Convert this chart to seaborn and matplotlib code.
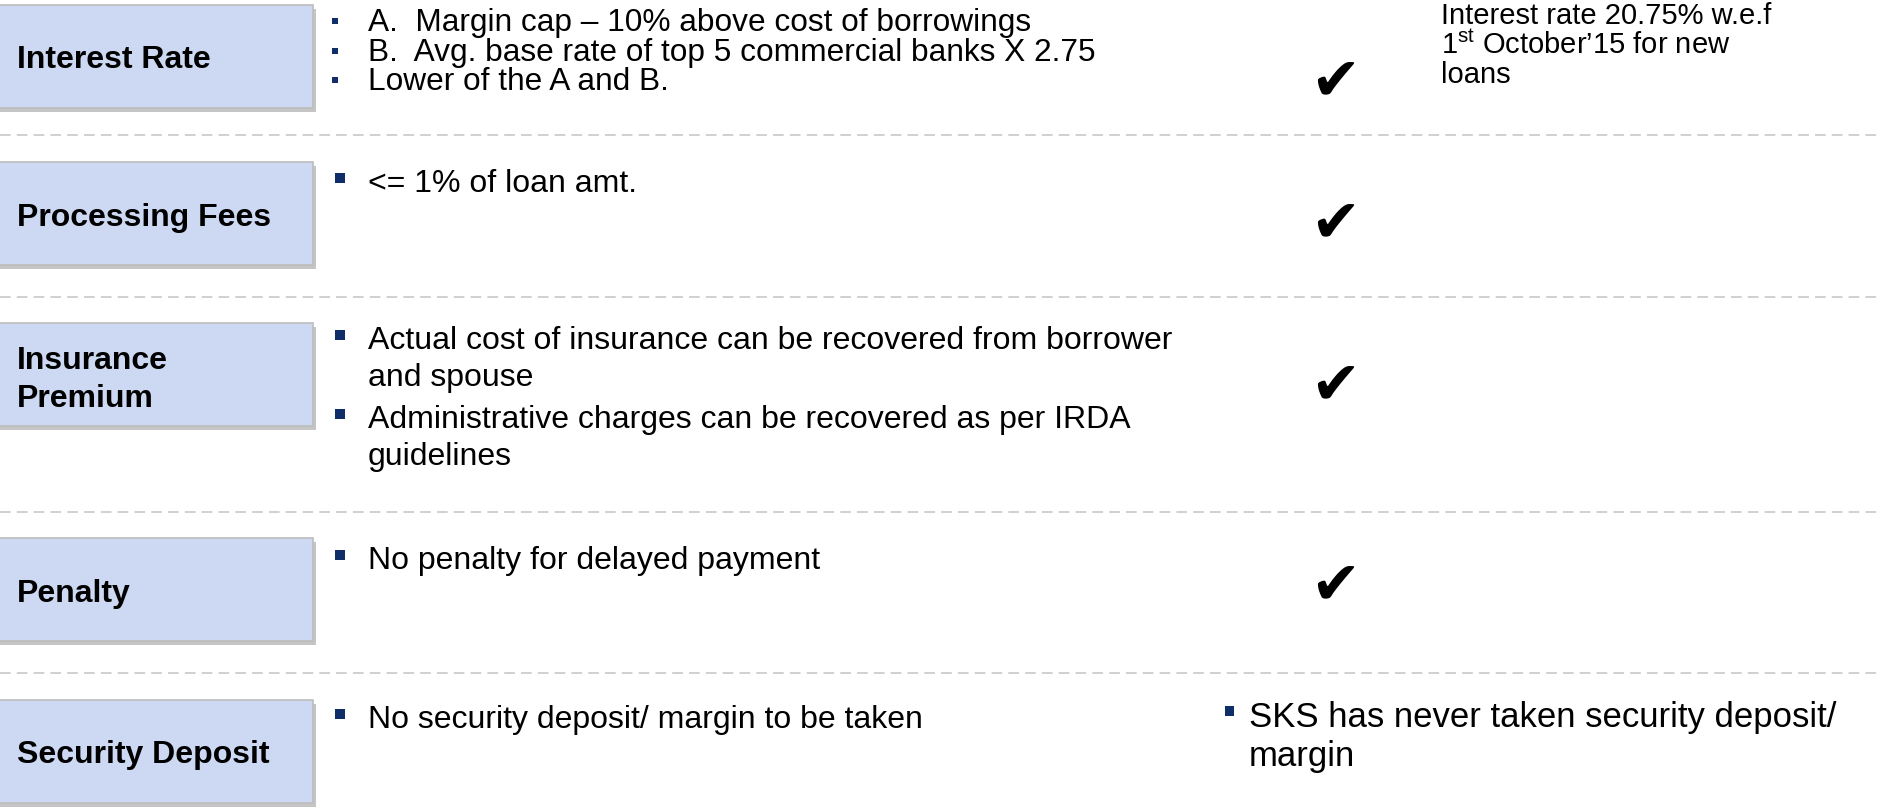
import matplotlib
matplotlib.use("Agg")
import matplotlib.pyplot as plt
import matplotlib.patheffects as pe
from matplotlib.patches import Rectangle
import seaborn as sns

# slide content
row_labels = [["Interest Rate"], ["Processing Fees"], ["Insurance", "Premium"],
              ["Penalty"], ["Security Deposit"]]
row_points = [
    [["A.  Margin cap \u2013 10% above cost of borrowings"],
     ["B.  Avg. base rate of top 5 commercial banks X 2.75"],
     ["Lower of the A and B."]],
    [["<= 1% of loan amt."]],
    [["Actual cost of insurance can be recovered from borrower", "and spouse"],
     ["Administrative charges can be recovered as per IRDA", "guidelines"]],
    [["No penalty for delayed payment"]],
    [["No security deposit/ margin to be taken"]],
]
row_tick = [True, True, True, True, False]
row_notes = [
    ["Interest rate 20.75% w.e.f", "1$^{\\mathrm{st}}$ October\u201915 for new", "loans"],
    [], [], [],
    ["SKS has never taken security deposit/", "margin"],
]
note_bullet = [False, False, False, False, True]

# layout (pixels, y downwards)
W, H = 1883, 807
box_top = [5, 162, 323, 538, 700]
box_h, box_w = 103, 313
separators = [135, 297, 512, 673]
label_base = [68, 226, 369, 602, 763]
point_base = [31, 192, 349, 569, 728]
point_size = [22.8, 23, 23, 23, 23]
line_gap = [29.5, 37, 37, 37, 37]
bullet_gap = [29.5, 42, 42, 42, 42]
tick_y = [84, 226, 388, 588]
note_base = [24, 0, 0, 0, 727]
note_gap = [29.5, 0, 0, 0, 39]
note_size = [21, 0, 0, 0, 25]

sns.set_theme(style="white")
plt.rcParams["font.family"] = ["Liberation Sans", "DejaVu Sans"]
plt.rcParams["mathtext.fontset"] = "custom"
plt.rcParams["mathtext.rm"] = "Liberation Sans"

NAVY = "#0F2D69"
BOX = "#CDD9F2"

fig = plt.figure(figsize=(W / 100, H / 100), dpi=100)
ax = fig.add_axes([0, 0, 1, 1])
ax.set_xlim(0, W)
ax.set_ylim(H, 0)
ax.axis("off")

for y in separators:
    ax.axhline(y, color="#C4C4C4", lw=1.1, dashes=(7, 4))

for i, lab in enumerate(row_labels):
    rect = Rectangle((-4, box_top[i]), box_w + 4, box_h, facecolor=BOX,
                     edgecolor="#BDBDBD", lw=1.2, zorder=2)
    rect.set_path_effects([pe.SimplePatchShadow(offset=(2.2, -2.6), shadow_rgbFace="#7F7F7F", alpha=0.45),
                           pe.Normal()])
    ax.add_patch(rect)
    for k, line in enumerate(lab):
        ax.text(17, label_base[i] + 38 * k, line, fontsize=23, fontweight="bold",
                color="black", va="baseline", ha="left", zorder=3)

    # bullet points
    y = point_base[i]
    bs = 6 if i == 0 else 10
    off = 10 if i == 0 else 14
    bx = 332 if i == 0 else 335
    for j, pt in enumerate(row_points[i]):
        if j > 0:
            y += bullet_gap[i]
        ax.add_patch(Rectangle((bx, y - off - bs / 2), bs, bs, facecolor=NAVY, lw=0, zorder=3))
        for k, line in enumerate(pt):
            if k > 0:
                y += line_gap[i]
            ax.text(368, y, line, fontsize=point_size[i], color="black", va="baseline", ha="left")

    if row_tick[i]:
        ax.text(1335, tick_y[i], "\u2714", fontsize=43, color="black",
                ha="center", va="center", family=["DejaVu Sans"])

    if row_notes[i]:
        nx = 1249 if note_bullet[i] else 1441
        if note_bullet[i]:
            ax.add_patch(Rectangle((1225, note_base[i] - 16 - 5), 9, 10, facecolor=NAVY, lw=0))
        for k, line in enumerate(row_notes[i]):
            ax.text(nx, note_base[i] + note_gap[i] * k, line, fontsize=note_size[i],
                    color="black", va="baseline", ha="left")

fig.savefig("out.png", dpi=100, facecolor="white")
